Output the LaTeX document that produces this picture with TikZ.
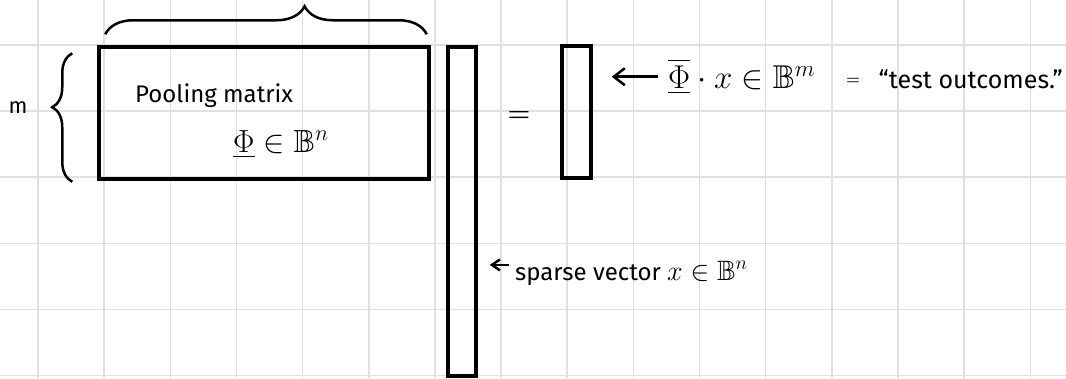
\RequirePackage{fix-cm}
\documentclass[tikz,border=0pt]{standalone}
\usepackage{fontspec}
\usepackage{amsmath,amssymb}
\setmainfont{Fira Sans}
\usetikzlibrary{arrows.meta, positioning, decorations.pathreplacing}

\begin{document}
\begin{tikzpicture}[
    x=1pt, y=-1pt,
    vecbox/.style={rectangle, draw, line width=3.5pt, inner sep=0pt},
    hand/.style={inner sep=0pt},
    arrow/.style={-{Straight Barb[length=11pt, width=17pt]}, line width=2.5pt},
    curly/.style={decorate, line width=2.5pt, decoration={brace, amplitude=#1}},
    gridline/.style={black!12, line width=1.5pt},
]

\useasboundingbox[fill=white] (0,0) rectangle (1066,378);

% Grid paper
\foreach \i in {0,...,15} \draw[gridline] (38+66.15*\i,0) -- (38+66.15*\i,378);
\foreach \j in {0,...,5} \draw[gridline] (0,45+66.1*\j) -- (1066,45+66.1*\j);

% Nodes
\node[vecbox, minimum width=330pt, minimum height=132pt] (pool) at (264,113) {};
\node[vecbox, minimum width=28pt, minimum height=329pt] (xvec) at (462,211.5) {};
\node[vecbox, minimum width=29pt, minimum height=132pt] (yvec) at (576.5,112) {};

\node[hand, font=\fontsize{22}{26}\selectfont] (mlbl) at (18,108) {m};
\node[hand, anchor=base west, font=\fontsize{24}{28}\selectfont] (poollbl) at (135,102) {Pooling matrix};
\node[hand, anchor=base west, font=\fontsize{32}{40}\selectfont] (poolset) at (233,152) {$\underline{\Phi}\in\mathbb{B}^n$};
\node[hand, font=\fontsize{26}{28}\selectfont\boldmath] (eq) at (519,116) {$=$};
\node[hand, anchor=base west, font=\fontsize{33}{40}\selectfont] (outlbl) at (668,88) {$\overline{\underline{\Phi}}\cdot x\in\mathbb{B}^m$};
\node[hand, font=\fontsize{16}{18}\selectfont\boldmath] (eq2) at (853,81) {$=$};
\node[hand, anchor=base east, font=\fontsize{25}{28}\selectfont] (outtxt) at (1063,88) {“test outcomes.”};
\node[hand, anchor=base west, font=\fontsize{24}{28}\selectfont] (sparselbl) at (515,280) {sparse vector {\fontsize{28}{30}\selectfont$x\in\mathbb{B}^n$}};
\coordinate (sparsetail) at ([yshift=8pt]sparselbl.west);

% Braces
\draw[curly=28pt, decoration={aspect=0.62}] ([shift={(8,-11)}]pool.north west) -- ([shift={(-4,-11)}]pool.north east);
\draw[curly=20pt, decoration={aspect=0.58}] ([shift={(-25,1)}]pool.south west) -- ([shift={(-25,8)}]pool.north west);

% Arrows
\draw[arrow, shorten <=10pt, shorten >=19pt] (outlbl.west) -- (yvec.east |- outlbl.west);
\draw[arrow, -{Straight Barb[length=8pt, width=11pt]}, shorten <=6pt, shorten >=12pt] (sparsetail) -- (xvec.east |- sparsetail);

\end{tikzpicture}
\end{document}
